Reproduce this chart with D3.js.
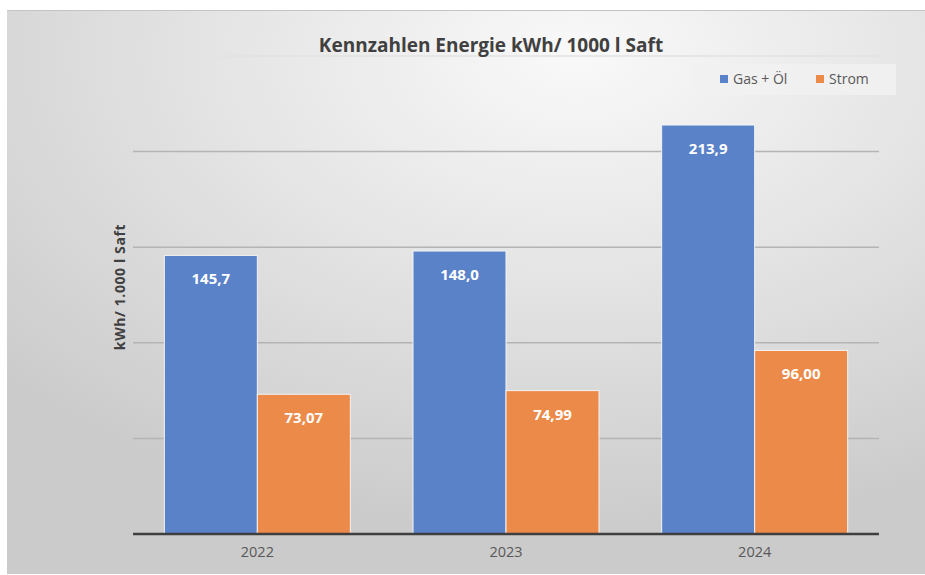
<!DOCTYPE html>
<html>
<head>
<meta charset="utf-8">
<script src="https://cdn.jsdelivr.net/npm/d3@7"></script>
<style>
  body { margin: 0; background: #fff; }
  text { font-family: "Open Sans", "Noto Sans", sans-serif; }
</style>
</head>
<body>
<div class="canvas"></div>
<script>
const years = ['2022', '2023', '2024']
const seriesNames = ['Gas + Öl', 'Strom']
const gasOel = [145.7, 148.0, 213.9]
const strom = [73.07, 74.99, 96.00]
const gasLabels = ['145,7', '148,0', '213,9']
const stromLabels = ['73,07', '74,99', '96,00']
const yTicks = [0, 50, 100, 150, 200, 250]

const colors = ['#5A82C9', '#EC8A4A']

const width = 925
const height = 575
const margin = { top: 56, right: 46, bottom: 41, left: 133 }
const graphWidth = width - margin.left - margin.right
const graphHeight = height - margin.top - margin.bottom

const svg = d3.select('.canvas').append('svg')
  .attr('width', width)
  .attr('height', height)

// background panel
const defs = svg.append('defs')
const grad = defs.append('radialGradient')
  .attr('id', 'bg')
  .attr('cx', '0.62').attr('cy', '0.08').attr('r', '0.85')
grad.append('stop').attr('offset', '0%').attr('stop-color', '#f9f9f9')
grad.append('stop').attr('offset', '45%').attr('stop-color', '#e5e5e5')
grad.append('stop').attr('offset', '100%').attr('stop-color', '#cbcbcb')

svg.append('rect')
  .attr('x', 7).attr('y', 10)
  .attr('width', width - 7).attr('height', height - 11)
  .attr('fill', 'url(#bg)')
svg.append('line')
  .attr('x1', 7).attr('x2', width).attr('y1', 10.5).attr('y2', 10.5)
  .attr('stroke', '#c4c4c4')

const graph = svg.append('g')
  .attr('transform', `translate(${margin.left}, ${margin.top})`)

const y = d3.scaleLinear()
  .domain([0, 250])
  .range([graphHeight, 0])

const x0 = d3.scaleBand()
  .domain(years)
  .range([0, graphWidth])
  .paddingInner(0.252)
  .paddingOuter(0.126)

const x1 = d3.scaleBand()
  .domain(seriesNames)
  .range([0, x0.bandwidth()])

// gridlines
graph.append('g')
  .selectAll('line')
  .data(yTicks.filter(d => d > 0))
  .enter().append('line')
  .attr('x1', 0).attr('x2', graphWidth)
  .attr('y1', d => y(d)).attr('y2', d => y(d))
  .attr('stroke', d => d === 250 ? '#e2e2e2' : '#b4b4b4')
  .attr('stroke-width', 1.5)

const data = years.map((yr, i) => ({
  year: yr,
  values: [
    { name: seriesNames[0], value: gasOel[i], label: gasLabels[i] },
    { name: seriesNames[1], value: strom[i], label: stromLabels[i] }
  ]
}))

const groups = graph.selectAll('g.year')
  .data(data)
  .enter().append('g')
  .attr('class', 'year')
  .attr('transform', d => `translate(${x0(d.year)},0)`)

groups.selectAll('rect')
  .data(d => d.values)
  .enter().append('rect')
  .attr('x', d => x1(d.name))
  .attr('y', d => y(d.value))
  .attr('width', x1.bandwidth())
  .attr('height', d => graphHeight - y(d.value))
  .attr('fill', (d, i) => colors[i])
  .attr('stroke', '#f4f4f4')
  .attr('stroke-width', 1)

groups.selectAll('text')
  .data(d => d.values)
  .enter().append('text')
  .attr('x', d => x1(d.name) + x1.bandwidth() / 2)
  .attr('y', d => y(d.value) + 29)
  .attr('text-anchor', 'middle')
  .attr('fill', '#fff')
  .attr('font-size', 15)
  .attr('font-weight', 'bold')
  .text(d => d.label)

// x axis
const xAxisGroup = graph.append('g')
  .attr('transform', `translate(0,${graphHeight})`)
  .call(d3.axisBottom(x0).tickSize(0).tickPadding(13))
xAxisGroup.select('.domain').remove()
xAxisGroup.selectAll('text')
  .attr('font-size', 14.5)
  .attr('fill', '#595959')
  .style('font-family', '"Open Sans", sans-serif')

graph.append('line')
  .attr('x1', 0).attr('x2', graphWidth)
  .attr('y1', graphHeight).attr('y2', graphHeight)
  .attr('stroke', '#3f3f3f')
  .attr('stroke-width', 2.5)

// title
svg.append('text')
  .attr('x', 491).attr('y', 52)
  .attr('text-anchor', 'middle')
  .attr('font-size', 19)
  .attr('font-weight', 'bold')
  .attr('fill', '#404040')
  .text('Kennzahlen Energie kWh/ 1000 l Saft')

// y axis title
svg.append('text')
  .attr('transform', `translate(125,${margin.top + graphHeight / 2 - 8}) rotate(-90)`)
  .attr('text-anchor', 'middle')
  .attr('font-size', 14)
  .attr('font-weight', 'bold')
  .attr('letter-spacing', 0.6)
  .attr('fill', '#404040')
  .text('kWh/ 1.000 l Saft')

// legend
const legend = svg.append('g')
legend.append('rect')
  .attr('x', 692).attr('y', 64)
  .attr('width', 204).attr('height', 31)
  .attr('fill', '#f1f1f1')
  .attr('opacity', 0.85)
const legendX = [720, 816]
seriesNames.forEach((name, i) => {
  legend.append('rect')
    .attr('x', legendX[i]).attr('y', 75)
    .attr('width', 8).attr('height', 8)
    .attr('fill', colors[i])
  legend.append('text')
    .attr('x', legendX[i] + 13).attr('y', 84)
    .attr('font-size', 14)
    .attr('fill', '#595959')
    .text(name)
})
</script>
</body>
</html>
